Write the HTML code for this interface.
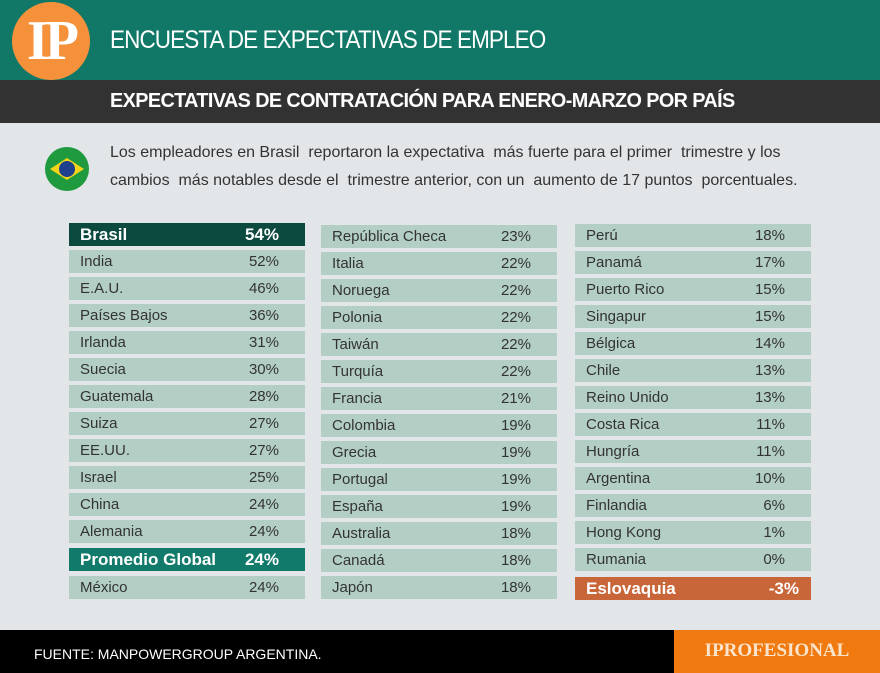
<!DOCTYPE html>
<html><head><meta charset="utf-8"><style>
*{margin:0;padding:0;box-sizing:border-box}
body{width:880px;height:673px;background:#e3e6e9;position:relative;overflow:hidden;font-family:"Liberation Sans",sans-serif}
.hdr{position:absolute;left:0;top:0;width:880px;height:80px;background:#117868}
.sub{position:absolute;left:0;top:80px;width:880px;height:43px;background:#333232}
.logo{position:absolute;left:12px;top:2px;width:78px;height:78px;border-radius:50%;background:#f5913a;color:#fff;font-family:"Liberation Serif",serif;font-weight:bold;font-size:56px;text-align:center;line-height:78px;letter-spacing:-4px}
.t1{position:absolute;left:110px;top:26px;color:#fff;font-size:25px;letter-spacing:-1px;transform:scaleX(.9);transform-origin:left}
.t2{position:absolute;left:110px;top:90px;color:#fff;font-size:20px;font-weight:bold;letter-spacing:-.6px;transform:scaleX(.99);transform-origin:left}
.flag{position:absolute;left:45px;top:147px;width:44px;height:44px;border-radius:50%;background:#1f9a3e;overflow:hidden}
.flag:before{content:"";position:absolute;left:5px;top:11px;width:34px;height:22px;background:#f6d417;clip-path:polygon(50% 0,100% 50%,50% 100%,0 50%)}
.flag:after{content:"";position:absolute;left:14px;top:14px;width:16px;height:16px;border-radius:50%;background:#1f3f8f}
.desc{position:absolute;left:110px;top:139px;color:#333;font-size:16px;line-height:28px;letter-spacing:0px}
.r{position:absolute;width:236px;height:23px;background:#b3cfc5;color:#333;font-size:15px;line-height:23px;padding-left:11px}
.r span{position:absolute;right:26px;top:0}
.b{font-weight:bold;color:#fff;font-size:17px}
.foot{position:absolute;left:0;top:630px;width:674px;height:43px;background:#000;color:#fff;font-size:14px;padding:16px 0 0 34px}
.or{position:absolute;left:674px;top:630px;width:206px;height:43px;background:#f07a10;color:#fbe4cc;font-family:"Liberation Serif",serif;font-weight:bold;font-size:19px;text-align:center;line-height:42px}
</style></head><body>
<div class="hdr"></div><div class="sub"></div>
<div class="logo">IP</div>
<div class="t1">ENCUESTA DE EXPECTATIVAS DE EMPLEO</div>
<div class="t2">EXPECTATIVAS DE CONTRATACIÓN PARA ENERO-MARZO POR PAÍS</div>
<div class="flag"></div>
<div class="desc">Los empleadores en Brasil &nbsp;reportaron la expectativa &nbsp;más fuerte para el primer &nbsp;trimestre y los<br>cambios &nbsp;más notables desde el &nbsp;trimestre anterior, con un &nbsp;aumento de 17 puntos &nbsp;porcentuales.</div>

<div class="r b" style="left:69px;top:223px;background:#0c4a40">Brasil<span>54%</span></div>
<div class="r" style="left:69px;top:250px">India<span>52%</span></div>
<div class="r" style="left:69px;top:277px">E.A.U.<span>46%</span></div>
<div class="r" style="left:69px;top:304px">Países Bajos<span>36%</span></div>
<div class="r" style="left:69px;top:331px">Irlanda<span>31%</span></div>
<div class="r" style="left:69px;top:358px">Suecia<span>30%</span></div>
<div class="r" style="left:69px;top:385px">Guatemala<span>28%</span></div>
<div class="r" style="left:69px;top:412px">Suiza<span>27%</span></div>
<div class="r" style="left:69px;top:439px">EE.UU.<span>27%</span></div>
<div class="r" style="left:69px;top:466px">Israel<span>25%</span></div>
<div class="r" style="left:69px;top:493px">China<span>24%</span></div>
<div class="r" style="left:69px;top:520px">Alemania<span>24%</span></div>
<div class="r b" style="left:69px;top:548px;background:#127a6b">Promedio Global<span>24%</span></div>
<div class="r" style="left:69px;top:576px">México<span>24%</span></div>

<div class="r" style="left:321px;top:225px">República Checa<span>23%</span></div>
<div class="r" style="left:321px;top:252px">Italia<span>22%</span></div>
<div class="r" style="left:321px;top:279px">Noruega<span>22%</span></div>
<div class="r" style="left:321px;top:306px">Polonia<span>22%</span></div>
<div class="r" style="left:321px;top:333px">Taiwán<span>22%</span></div>
<div class="r" style="left:321px;top:360px">Turquía<span>22%</span></div>
<div class="r" style="left:321px;top:387px">Francia<span>21%</span></div>
<div class="r" style="left:321px;top:414px">Colombia<span>19%</span></div>
<div class="r" style="left:321px;top:441px">Grecia<span>19%</span></div>
<div class="r" style="left:321px;top:468px">Portugal<span>19%</span></div>
<div class="r" style="left:321px;top:495px">España<span>19%</span></div>
<div class="r" style="left:321px;top:522px">Australia<span>18%</span></div>
<div class="r" style="left:321px;top:549px">Canadá<span>18%</span></div>
<div class="r" style="left:321px;top:576px">Japón<span>18%</span></div>

<div class="r" style="left:575px;top:224px">Perú<span>18%</span></div>
<div class="r" style="left:575px;top:251px">Panamá<span>17%</span></div>
<div class="r" style="left:575px;top:278px">Puerto Rico<span>15%</span></div>
<div class="r" style="left:575px;top:305px">Singapur<span>15%</span></div>
<div class="r" style="left:575px;top:332px">Bélgica<span>14%</span></div>
<div class="r" style="left:575px;top:359px">Chile<span>13%</span></div>
<div class="r" style="left:575px;top:386px">Reino Unido<span>13%</span></div>
<div class="r" style="left:575px;top:413px">Costa Rica<span>11%</span></div>
<div class="r" style="left:575px;top:440px">Hungría<span>11%</span></div>
<div class="r" style="left:575px;top:467px">Argentina<span>10%</span></div>
<div class="r" style="left:575px;top:494px">Finlandia<span>6%</span></div>
<div class="r" style="left:575px;top:521px">Hong Kong<span>1%</span></div>
<div class="r" style="left:575px;top:548px">Rumania<span>0%</span></div>
<div class="r b" style="left:575px;top:577px;background:#c8663a">Eslovaquia<span style="right:12px">-3%</span></div>

<div class="foot">FUENTE: MANPOWERGROUP ARGENTINA.</div>
<div class="or">IPROFESIONAL</div>
</body></html>
